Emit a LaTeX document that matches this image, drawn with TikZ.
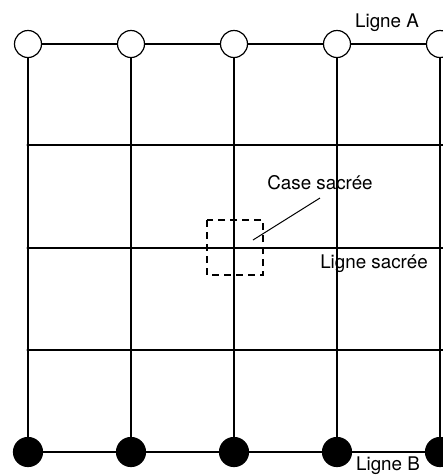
\documentclass[tikz,border=0pt]{standalone}
\usepackage{fontspec}
\setmainfont{TeX Gyre Heros}
\begin{document}
\begin{tikzpicture}[x=1pt,y=-1pt,line width=1.2pt,
    pionA/.style={circle,draw,fill=white,minimum size=27pt,inner sep=0pt},
    pionB/.style={circle,draw,fill=black,minimum size=29pt,inner sep=0pt},
    legende/.style={font=\fontsize{18.8}{22}\selectfont,inner sep=0pt}]
    \useasboundingbox (0,0) rectangle (443,475);
    \clip (0,0) rectangle (443,475);

    % Columns and pieces
    \foreach \i in {1,...,5} {
        \pgfmathsetmacro{\xx}{28+103*(\i-1)}
        \node[pionA] (a\i) at (\xx,44) {};
        \node[pionB] (b\i) at (\xx,452) {};
        \draw (a\i) -- (b\i);
    }
    % Ligne A and Ligne B
    \foreach \i/\j in {1/2,2/3,3/4,4/5} {
        \draw (a\i) -- (a\j);
        \draw (b\i) -- (b\j);
    }

    % Inner lines
    \foreach \j/\yy in {1/145,2/248,3/350} {
        \coordinate (h\j w) at (28,\yy);
        \coordinate (h\j e) at (443,\yy);
        \draw (h\j w) -- (h\j e);
        \foreach \i in {1,...,4}
            \fill (28+103*\i-103,\yy) circle (1.6pt);
    }

    % Case sacree
    \draw[dashed,dash pattern=on 7pt off 5pt] (207,220) rectangle (263,275);
    \coordinate (case) at (253,240);
    \node[legende] (lcase) at (320,183) {Case sacrée};
    \draw[line width=1pt] (case) -- (320,198);

    % Labels
    \node[legende] (la) at (387,23) {Ligne A};
    \node[legende] (ls) at (374,264) {Ligne sacrée};
    \node[legende] (lb) at (388,466) {Ligne B};
\end{tikzpicture}
\end{document}
